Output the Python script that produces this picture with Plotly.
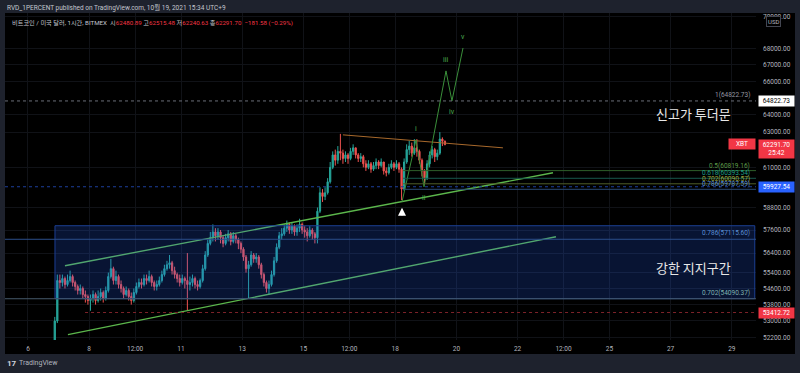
import math
from datetime import datetime, timedelta
import plotly.graph_objects as go

# ---------------- data ----------------
start_time = datetime(2021, 10, 6, 20, 0)   # first bar (KST)
bar_hours = 2
first_open_k = 51.9
close_k = [
    53.0, 55.0, 54.9, 55.1, 54.8, 55.0, 55.2, 54.9, 54.7, 54.5,
    54.6, 54.3, 54.2, 54.0, 54.1, 54.3, 54.0, 54.2, 54.4, 54.1,
    54.5, 55.2, 55.6, 55.0, 55.2, 54.8, 54.6, 54.3, 54.5, 54.2,
    54.0, 54.4, 54.7, 54.9, 54.8, 55.1, 55.0, 55.2, 54.9, 54.7,
    54.8, 55.0, 55.3, 55.6, 55.8, 55.9, 55.5, 55.3, 55.1, 54.9,
    55.1, 55.0, 54.8, 54.9, 55.1, 54.8, 54.7, 55.0, 55.6, 56.3,
    56.9, 57.2, 57.5, 57.3, 57.5, 57.2, 56.9, 57.2, 57.4, 57.0,
    57.3, 57.1, 56.9, 56.6, 56.2, 55.6, 55.8, 56.3, 56.1, 56.2,
    55.8, 55.3, 54.9, 54.6, 54.8, 55.3, 56.0, 56.7, 57.3, 57.4,
    57.7, 57.9, 57.6, 57.8, 57.5, 57.7, 57.9, 57.6, 57.5, 57.3,
    57.6, 57.4, 57.2, 58.6, 59.6, 59.4, 59.6, 60.2, 61.0, 61.7,
    61.4, 61.9, 61.8, 61.5, 61.7, 61.5, 61.9, 62.1, 61.7, 61.5,
    61.6, 61.2, 61.0, 61.2, 60.9, 61.1, 61.3, 61.1, 61.3, 60.8,
    60.7, 61.0, 61.2, 61.0, 61.2, 60.9, 59.8, 61.3, 62.0, 62.2,
    61.8, 62.1, 61.9, 61.4, 60.8, 60.4, 61.2, 61.7, 62.0, 61.6,
    61.8, 62.6, 62.48089, 62.2917,
]
high_k = [
    53.2, 55.3, 55.3, 55.3, 55.2, 55.3, 55.5, 55.3, 55.0, 54.8,
    54.8, 54.7, 54.5, 54.3, 54.3, 54.5, 54.4, 54.5, 54.6, 54.5,
    54.7, 55.4, 56.1, 55.7, 55.5, 55.3, 55.0, 54.7, 54.7, 54.6,
    54.4, 54.6, 54.9, 55.1, 55.1, 55.3, 55.3, 55.5, 55.3, 55.0,
    55.0, 55.2, 55.5, 55.8, 56.0, 56.3, 56.0, 55.7, 55.4, 55.3,
    55.3, 55.2, 56.4, 55.2, 55.3, 55.2, 55.0, 55.1, 55.8, 56.5,
    57.1, 57.5, 57.9, 57.7, 57.7, 57.6, 57.3, 57.4, 57.6, 57.5,
    57.5, 57.4, 57.2, 57.0, 56.7, 56.3, 56.0, 56.5, 56.4, 56.4,
    56.3, 55.9, 55.4, 55.0, 55.0, 55.5, 56.2, 56.9, 57.5, 57.7,
    57.9, 58.1, 58.0, 58.0, 57.9, 57.9, 58.2, 58.0, 57.8, 57.7,
    57.8, 57.7, 57.5, 58.8, 59.9, 59.8, 59.9, 60.4, 61.3, 61.9,
    62.0, 62.2, 62.9, 62.0, 61.9, 61.8, 62.1, 62.3, 62.1, 61.8,
    61.8, 61.7, 61.4, 61.4, 61.3, 61.3, 61.5, 61.4, 61.5, 61.3,
    61.0, 61.2, 61.4, 61.3, 61.4, 61.3, 61.0, 61.5, 62.3, 62.5,
    62.4, 62.6, 62.6, 62.0, 61.5, 60.9, 61.4, 61.9, 62.2, 62.1,
    62.0, 63.0, 62.7, 62.51548,
]
low_k = [
    51.8, 52.9, 54.6, 54.7, 54.6, 54.7, 54.9, 54.7, 54.5, 54.3,
    54.3, 54.1, 53.9, 53.8, 53.5, 53.9, 53.8, 53.9, 54.0, 53.9,
    54.0, 54.4, 55.1, 54.8, 54.8, 54.6, 54.4, 54.1, 54.2, 54.0,
    53.8, 53.9, 54.3, 54.6, 54.6, 54.7, 54.8, 54.9, 54.7, 54.5,
    54.5, 54.7, 54.9, 55.2, 55.5, 55.6, 55.3, 55.1, 54.9, 54.7,
    54.8, 54.6, 53.5, 54.5, 54.7, 54.6, 54.5, 54.6, 54.9, 55.5,
    56.2, 56.8, 57.0, 57.0, 57.1, 56.9, 56.7, 56.8, 57.0, 56.8,
    56.9, 56.9, 56.6, 56.4, 56.0, 55.4, 54.1, 55.7, 55.9, 55.9,
    55.6, 55.1, 54.7, 54.4, 54.3, 54.7, 55.2, 55.9, 56.6, 57.1,
    57.3, 57.5, 57.4, 57.4, 57.3, 57.3, 57.5, 57.4, 57.2, 57.0,
    57.2, 57.1, 56.9, 56.9, 58.5, 59.1, 59.2, 59.5, 60.1, 60.9,
    61.1, 61.2, 61.4, 61.2, 61.3, 61.2, 61.4, 61.7, 61.5, 61.3,
    61.3, 61.0, 60.8, 60.9, 60.7, 60.8, 60.9, 60.9, 61.0, 60.6,
    60.5, 60.6, 60.9, 60.8, 60.9, 60.7, 59.2, 59.7, 61.2, 61.7,
    61.6, 61.7, 61.6, 61.2, 60.5, 60.1, 60.3, 61.0, 61.5, 61.3,
    61.4, 61.7, 62.2, 62.24063,
]

y_tick_vals = [70000, 68000, 67000, 66000, 64000, 63000, 61000, 58800,
               57600, 56400, 55400, 54600, 53800, 53000, 52200]
x_tick_vals = ["2021-10-06", "2021-10-08", "2021-10-09 12:00", "2021-10-11",
               "2021-10-13", "2021-10-15", "2021-10-16 12:00", "2021-10-18",
               "2021-10-20", "2021-10-22", "2021-10-23 12:00", "2021-10-25",
               "2021-10-27", "2021-10-29"]
x_tick_text = ["6", "8", "12:00", "11", "13", "15", "12:00", "18",
               "20", "22", "12:00", "25", "27", "29"]
x_range = ["2021-10-05 05:58", "2021-10-29 18:58"]
y_range_price = [52086, 70256]

channel_upper_t = ["2021-10-07 05:00", "2021-10-23 03:45"]
channel_upper_p = [55749, 60698]
channel_lower_t = ["2021-10-07 07:20", "2021-10-23 06:05"]
channel_lower_p = [52345, 57247]
resist_t = ["2021-10-16 07:00", "2021-10-21 12:30"]
resist_p = [62843, 62100]
wave_t = ["2021-10-18 05:20", "2021-10-18 16:20", "2021-10-18 22:35",
          "2021-10-19 15:50", "2021-10-19 20:30", "2021-10-20 05:10"]
wave_p = [59109, 62556, 59926, 66629, 64827, 68044]
wave_labels = ["", "i", "ii", "iii", "iv", "v"]
wave_label_side = [0, 1, -1, 1, -1, 1]

fib_top_text = "1(64822.73)"
fib_top_price = 64822.73
fib_upper_text = ["0.5(60819.16)", "0.618(60393.54)", "0.702(60090.57)", "0.786(59787.59)"]
fib_upper_price = [60819.16, 60393.54, 60090.57, 59787.59]
fib_upper_start = "2021-10-18 06:15"
fib_lower_text = ["0.786(57115.60)", "0.702(54090.37)"]
fib_lower_price = [57115.60, 54090.37]
zone_t = ["2021-10-06 21:10", "2021-10-29 18:00"]
zone_p = [54090.37, 57828]
last_price = 62291.70
countdown = "25:42"
alert_blue = 59927.54
alert_red = 53412.72
alert_red_start = "2021-10-07 20:45"

header_1 = "RVD_1PERCENT published on TradingView.com, 10월 19, 2021 15:34 UTC+9"
ohlc_vals = ["62480.89", "62515.48", "62240.63", "62291.70"]
ohlc_names = ["시", "고", "저", "종"]
change_text = "−181.58 (−0.29%)"
note_top = "신고가 투더문"
note_zone = "강한 지지구간"

# ---------------- styling / geometry ----------------
W, H = 800, 373
L, R, T, B = 5, 756, 13, 340
UP, DN = "#26a69a", "#ef5350"
AX = "#b2b5be"
FONT = "Roboto, Noto Sans CJK KR, sans-serif"
KFONT = "Noto Sans CJK KR, sans-serif"


def px(x):
    return (x - L) / (R - L)


def py(y):
    return (B - y) / (B - T)


lg = math.log10

times = [start_time + timedelta(hours=bar_hours * i + bar_hours / 2) for i in range(len(close_k))]
closes = [v * 1000 for v in close_k]
highs = [v * 1000 for v in high_k]
lows = [v * 1000 for v in low_k]
opens = [first_open_k * 1000] + closes[:-1]

fig = go.Figure()
fig.add_trace(go.Candlestick(
    x=times, open=opens, high=highs, low=lows, close=closes,
    increasing=dict(line=dict(color=UP, width=1), fillcolor=UP),
    decreasing=dict(line=dict(color=DN, width=1), fillcolor=DN),
    whiskerwidth=0, hoverinfo="skip", showlegend=False))

for tt, pp in [(channel_upper_t, channel_upper_p), (channel_lower_t, channel_lower_p)]:
    fig.add_trace(go.Scatter(x=tt, y=pp, mode="lines",
                             line=dict(color="#5cb74c", width=1.4), hoverinfo="skip"))
fig.add_trace(go.Scatter(x=resist_t, y=resist_p, mode="lines",
                         line=dict(color="#a8692c", width=1), hoverinfo="skip"))
fig.add_trace(go.Scatter(x=wave_t, y=wave_p, mode="lines",
                         line=dict(color="#3a8f3a", width=1), hoverinfo="skip"))

shapes = []
# panel background
shapes.append(dict(type="rect", xref="paper", yref="paper", x0=px(5), x1=px(795),
                   y0=py(354), y1=py(13), fillcolor="#000000", line=dict(width=0), layer="below"))
# support zone
shapes.append(dict(type="rect", xref="x", yref="y", x0=zone_t[0], x1=zone_t[1],
                   y0=zone_p[0], y1=zone_p[1], fillcolor="rgba(41,98,255,0.20)",
                   line=dict(color="#1c3f94", width=1), layer="above"))
# fib top
shapes.append(dict(type="line", xref="paper", yref="y", x0=0, x1=1,
                   y0=fib_top_price, y1=fib_top_price,
                   line=dict(color="#6a6d78", width=1, dash="dot")))
upper_cols = ["#2f5f2a", "#17594d", "#4f5d27", "#2c4c74"]
for p, c in zip(fib_upper_price, upper_cols):
    shapes.append(dict(type="line", xref="x", yref="y", x0=fib_upper_start, x1=x_range[1],
                       y0=p, y1=p, line=dict(color=c, width=1)))
lower_cols = ["#2c4f8c", "#46596a"]
for p, c in zip(fib_lower_price, lower_cols):
    shapes.append(dict(type="line", xref="paper", yref="y", x0=0, x1=1,
                       y0=p, y1=p, line=dict(color=c, width=1)))
shapes.append(dict(type="line", xref="paper", yref="y", x0=0, x1=1,
                   y0=alert_blue, y1=alert_blue,
                   line=dict(color="#1d3f9c", width=1, dash="dot")))
shapes.append(dict(type="line", xref="x", yref="y", x0=alert_red_start, x1=x_range[1],
                   y0=alert_red, y1=alert_red,
                   line=dict(color="#7c2229", width=1, dash="dot")))

ann = []
# header
ann.append(dict(xref="paper", yref="paper", x=px(5), y=py(7), xanchor="left", yanchor="middle",
                text=header_1, showarrow=False, font=dict(family=FONT, size=6.5, color="#c3c6ce")))
red = "#f23645"
parts = ["비트코인 / 미국 달러, 1시간, BITMEX "]
for n, v in zip(ohlc_names, ohlc_vals):
    parts.append(f" {n}<span style='color:{red}'>{v}</span>")
parts.append(f"  <span style='color:{red}'>{change_text}</span>")
ann.append(dict(xref="paper", yref="paper", x=px(10), y=py(23), xanchor="left", yanchor="middle",
                text="".join(parts), showarrow=False, font=dict(family=FONT, size=6.2, color="#c3c6ce")))
# fib labels
ann.append(dict(xref="paper", yref="y", x=px(752), y=lg(fib_top_price), xanchor="right",
                yanchor="bottom", text=fib_top_text, showarrow=False,
                font=dict(family=FONT, size=6.5, color="#9598a1")))
up_txt_cols = ["#5d9b48", "#1e9e87", "#9aa83f", "#5b8fd6"]
for t, p, c in zip(fib_upper_text, fib_upper_price, up_txt_cols):
    ann.append(dict(xref="paper", yref="y", x=px(752), y=lg(p), xanchor="right", yanchor="bottom",
                    yshift=-1, text=t, showarrow=False, font=dict(family=FONT, size=6.5, color=c)))
lo_txt_cols = ["#5b8fd6", "#7fb3b0"]
for t, p, c in zip(fib_lower_text, fib_lower_price, lo_txt_cols):
    ann.append(dict(xref="paper", yref="y", x=px(752), y=lg(p), xanchor="right", yanchor="bottom",
                    text=t, showarrow=False, font=dict(family=FONT, size=6.5, color=c)))
# wave labels
for t, p, lab, s in zip(wave_t, wave_p, wave_labels, wave_label_side):
    if lab:
        ann.append(dict(xref="x", yref="y", x=t, y=lg(p), text=lab, showarrow=False,
                        xanchor="center", yshift=11 * s,
                        font=dict(family=FONT, size=7, color="#4caf50")))
# arrow at the low
ann.append(dict(xref="x", yref="y", x=wave_t[0], y=lg(wave_p[0]), yshift=-6, text="",
                showarrow=True, ax=0, ay=9, arrowhead=2, arrowsize=0.8, arrowwidth=2,
                arrowcolor="#ffffff"))
# notes
ann.append(dict(xref="paper", yref="paper", x=px(693), y=py(113), xanchor="center",
                yanchor="middle", text=note_top, showarrow=False,
                font=dict(family=KFONT, size=13, color="#e8e8e8")))
ann.append(dict(xref="paper", yref="paper", x=px(693), y=py(267), xanchor="center",
                yanchor="middle", text=note_zone, showarrow=False,
                font=dict(family=KFONT, size=13, color="#e8e8e8")))


# price-axis labels
def axis_box(price, text, bg, fg, yanchor="middle", yshift=0):
    ann.append(dict(xref="paper", yref="y", x=px(758), y=lg(price), xanchor="left",
                    yanchor=yanchor, yshift=yshift, text=text, showarrow=False, width=33,
                    align="center", bgcolor=bg, borderpad=1,
                    font=dict(family=FONT, size=6.5, color=fg)))


axis_box(fib_top_price, f"{fib_top_price:.2f}", "#ffffff", "#000000")
axis_box(last_price, f"{last_price:.2f}<br>{countdown}", red, "#ffffff", yanchor="top", yshift=5)
axis_box(alert_blue, f"{alert_blue:.2f}", "#2962ff", "#ffffff")
axis_box(alert_red, f"{alert_red:.2f}", red, "#ffffff")
ann.append(dict(xref="paper", yref="y", x=px(756), y=lg(last_price), xanchor="right",
                yanchor="middle", text="XBT", showarrow=False, width=24, align="center",
                bgcolor=red, borderpad=1, font=dict(family=FONT, size=6.5, color="#ffffff")))
ann.append(dict(xref="paper", yref="paper", x=px(773), y=py(22), xanchor="center",
                yanchor="middle", text="USD", showarrow=False,
                bgcolor="#000000", bordercolor="#434651", borderwidth=1, borderpad=1,
                font=dict(family=FONT, size=6, color=AX)))
# footer
ann.append(dict(xref="paper", yref="paper", x=px(5), y=py(363), xanchor="left", yanchor="middle",
                text="<b>17</b>", showarrow=False, font=dict(family=FONT, size=8, color="#d1d4dc")))
ann.append(dict(xref="paper", yref="paper", x=px(17), y=py(363), xanchor="left", yanchor="middle",
                text="TradingView", showarrow=False, font=dict(family=FONT, size=7, color="#b2b5be")))

fig.update_layout(
    width=W, height=H, margin=dict(l=L, r=W - R, t=T, b=H - B),
    paper_bgcolor="#1e222d", plot_bgcolor="#000000", showlegend=False,
    shapes=shapes, annotations=ann,
    xaxis=dict(type="date", range=x_range, tickvals=x_tick_vals, ticktext=x_tick_text,
               showgrid=True, gridcolor="#101217", gridwidth=1, zeroline=False, showline=False,
               ticks="", ticklabelstandoff=3, tickfont=dict(family=FONT, size=6.5, color=AX),
               rangeslider=dict(visible=False), fixedrange=True),
    yaxis=dict(type="log", side="right", range=[lg(y_range_price[0]), lg(y_range_price[1])],
               tickvals=y_tick_vals, ticktext=[f"{v:.2f}" for v in y_tick_vals],
               showgrid=True, gridcolor="#101217", gridwidth=1, zeroline=False, showline=False,
               ticks="", ticklabelstandoff=6, tickfont=dict(family=FONT, size=6.5, color=AX),
               fixedrange=True),
)

fig.write_html("out.html", config={"displayModeBar": False},
               post_script="document.body.style.margin='0px';document.body.style.overflow='hidden';")
